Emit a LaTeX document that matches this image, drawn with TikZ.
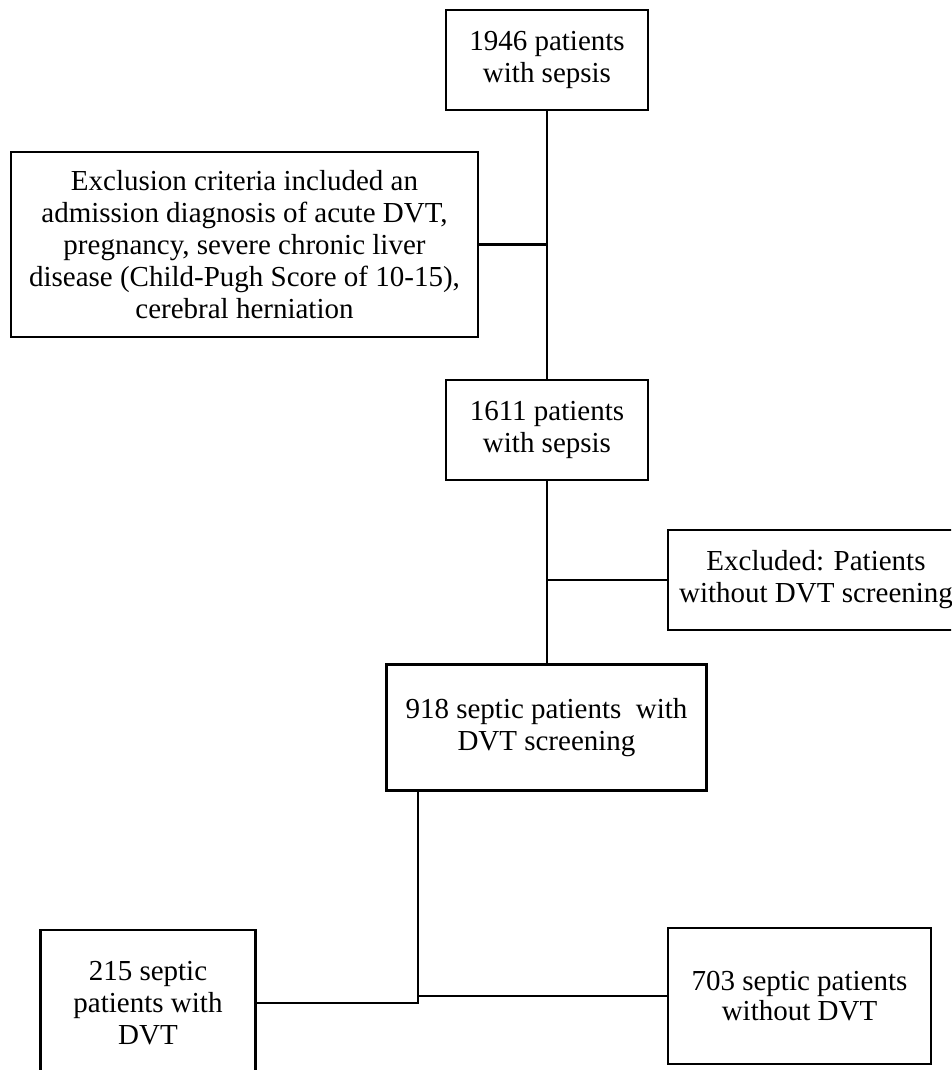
\documentclass[tikz,border=0pt]{standalone}
\usepackage{fontspec}
\setmainfont{Liberation Serif}
\begin{document}
\begin{tikzpicture}[x=1pt,y=-1pt,
  box/.style={draw=black,line width=2.2pt,inner sep=0pt,align=center,
    font=\fontsize{29}{32}\selectfont},
  conn/.style={draw=black,line width=2.2pt}]
\clip (0,0) rectangle (951,1070);
\fill[white] (0,0) rectangle (951,1070);
\node[box,minimum width=202,minimum height=100] (n1) at (547,60) {1946 patients\\with sepsis};
\node[box,minimum width=467,minimum height=185] (ex1) at (244.5,244.5)
  {Exclusion criteria included an\\admission diagnosis of acute DVT,\\pregnancy,\ severe chronic\ liver\\disease (Child-Pugh\ Score of 10-15),\\cerebral herniation};
\node[box,minimum width=202,minimum height=100] (n2) at (547,430) {1611 patients\\with sepsis};
\node[box,minimum width=296,minimum height=100] (ex2) at (816,580) {Excluded: Patients\\without\ DVT screening};
\node[box,minimum width=320,minimum height=126] (n3) at (546.5,727.5) {918 septic patients\ \ with\\DVT\ screening};
\node[box,minimum width=215,minimum height=146] (n4) at (148,1003) {215 septic\\patients with\\DVT};
\node[box,minimum width=263,minimum height=136,font=\fontsize{29}{30}\selectfont] (n5) at (799.5,996) {703 septic patients\\without\ DVT};
\coordinate (b) at (418,1003);
\coordinate (c) at (418,996);
\draw[conn] (n1.south) -- (n2.north);
\draw[conn] (ex1.east) -- (ex1.east -| n1.south);
\draw[conn] (n2.south) -- (n2.south |- n3.north);
\draw[conn] (ex2.west) -- (ex2.west -| n2.south);
\draw[conn] (n3.south -| b) -- (b) -- (n4.east |- b);
\draw[conn] (c) -- (n5.west);
\end{tikzpicture}
\end{document}
